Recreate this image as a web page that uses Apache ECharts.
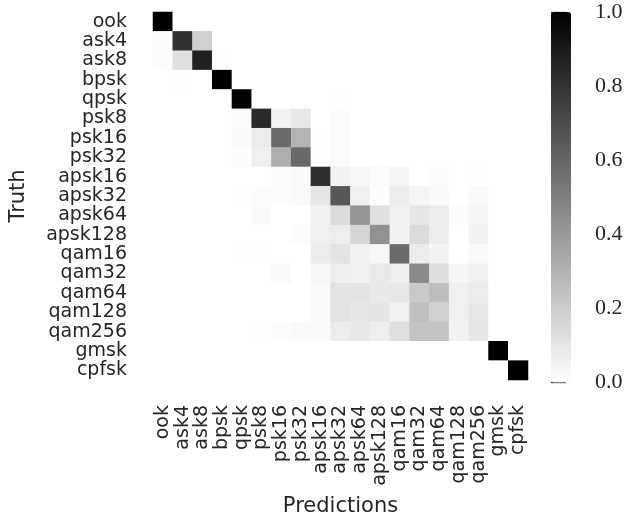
<!DOCTYPE html>
<html>
<head>
<meta charset="utf-8">
<script src="https://cdn.jsdelivr.net/npm/echarts@6/dist/echarts.min.js"></script>
<style>html,body{margin:0;padding:0;background:#fff}#c{width:629px;height:522px}</style>
</head>
<body>
<div id="c"></div>
<script>
const classes = ['ook','ask4','ask8','bpsk','qpsk','psk8','psk16','psk32','apsk16','apsk32','apsk64','apsk128','qam16','qam32','qam64','qam128','qam256','gmsk','cpfsk'];
const colorbarTicks = [0.0, 0.2, 0.4, 0.6, 0.8, 1.0];

// Rows = truth, columns = predictions (same order as classes)
const r_ook     = [1.00,0,0,0,0,0,0,0,0,0,0,0,0,0,0,0,0,0,0];
const r_ask4    = [0.01,0.80,0.19,0,0,0,0,0,0,0,0,0,0,0,0,0,0,0,0];
const r_ask8    = [0.01,0.12,0.87,0.005,0,0,0,0,0,0,0,0,0,0,0,0,0,0,0];
const r_bpsk    = [0,0.005,0,0.995,0,0,0,0,0,0,0,0,0,0,0,0,0,0,0];
const r_qpsk    = [0,0,0,0,0.99,0,0,0,0,0.005,0,0,0,0,0,0,0,0,0];
const r_psk8    = [0,0,0,0,0.015,0.835,0.05,0.09,0,0.01,0,0,0,0,0,0,0,0,0];
const r_psk16   = [0,0,0,0,0.02,0.08,0.58,0.30,0.005,0.015,0,0,0,0,0,0,0,0,0];
const r_psk32   = [0,0,0,0,0.01,0.06,0.32,0.59,0.005,0.015,0,0,0,0,0,0,0,0,0];
const r_apsk16  = [0,0,0,0,0,0,0.01,0.02,0.81,0.05,0.03,0.015,0.04,0,0.01,0,0.005,0,0];
const r_apsk32  = [0,0,0,0,0.005,0.01,0.01,0.02,0.10,0.66,0.06,0.01,0.075,0.04,0.02,0,0.02,0,0];
const r_apsk64  = [0,0,0,0,0,0.02,0,0,0.055,0.14,0.42,0.12,0.06,0.10,0.08,0.01,0.035,0,0];
const r_apsk128 = [0,0,0,0,0,0,0,0.01,0.06,0.07,0.16,0.43,0.05,0.14,0.075,0,0.05,0,0];
const r_qam16   = [0,0,0,0,0.005,0.005,0,0,0.075,0.11,0.055,0.03,0.58,0.08,0.05,0,0.02,0,0];
const r_qam32   = [0,0,0,0,0,0,0.02,0,0.03,0.065,0.06,0.085,0.07,0.46,0.13,0.035,0.06,0,0];
const r_qam64   = [0,0,0,0,0,0,0,0,0.02,0.11,0.11,0.09,0.095,0.21,0.26,0.06,0.08,0,0];
const r_qam128  = [0,0,0,0,0,0,0,0,0.02,0.11,0.10,0.105,0.06,0.25,0.19,0.06,0.09,0,0];
const r_qam256  = [0,0,0,0,0,0.005,0.01,0.02,0.02,0.075,0.09,0.07,0.125,0.23,0.23,0.05,0.10,0,0];
const r_gmsk    = [0,0,0,0,0,0,0,0,0,0,0,0,0,0,0,0,0,1.00,0];
const r_cpfsk   = [0,0,0,0,0,0,0,0,0,0,0,0,0,0,0,0,0,0,1.00];

const rows = [r_ook,r_ask4,r_ask8,r_bpsk,r_qpsk,r_psk8,r_psk16,r_psk32,r_apsk16,r_apsk32,r_apsk64,r_apsk128,r_qam16,r_qam32,r_qam64,r_qam128,r_qam256,r_gmsk,r_cpfsk];
const heatData = [];
rows.forEach((row, i) => row.forEach((v, j) => heatData.push([j, i, v])));

const txt = '#262626';
const sans = 'DejaVu Sans';
const chart = echarts.init(document.getElementById('c'), null, {renderer: 'canvas'});
chart.setOption({
  animation: false,
  backgroundColor: '#ffffff',
  grid: [
    {left: 152, top: 12, width: 376, height: 370.5},
    {left: 551, top: 12, width: 20, height: 370.5}
  ],
  xAxis: [
    {type: 'category', data: classes, gridIndex: 0, position: 'bottom',
     axisLine: {show: false}, axisTick: {show: false}, splitLine: {show: false},
     axisLabel: {rotate: 90, interval: 0, margin: 25, color: txt, fontFamily: sans, fontSize: 19},
     name: 'Predictions', nameLocation: 'middle', nameGap: 116,
     nameTextStyle: {color: txt, fontFamily: sans, fontSize: 21}},
    {type: 'value', gridIndex: 1, show: false, min: 0, max: 1}
  ],
  yAxis: [
    {type: 'category', data: classes, gridIndex: 0, inverse: true,
     axisLine: {show: false}, axisTick: {show: false}, splitLine: {show: false},
     axisLabel: {interval: 0, margin: 26, color: txt, fontFamily: sans, fontSize: 19},
     name: 'Truth', nameLocation: 'middle', nameGap: 124, nameRotate: 90,
     nameTextStyle: {color: txt, fontFamily: sans, fontSize: 21}},
    {type: 'value', gridIndex: 1, position: 'right', min: 0, max: 1, interval: 0.2,
     axisLine: {show: false}, splitLine: {show: false},
     axisTick: {show: true, length: 15, lineStyle: {color: txt, width: 1.3}},
     axisLabel: {margin: 24, color: txt, fontFamily: 'Liberation Serif', fontSize: 22,
                 formatter: v => colorbarTicks.indexOf(Math.round(v*10)/10) >= 0 ? v.toFixed(1) : ''}}
  ],
  visualMap: {
    type: 'continuous', seriesIndex: 0, min: 0, max: 1, calculable: false, hoverLink: false,
    left: 551, top: 12, padding: 0, itemWidth: 20, itemHeight: 370.5, text: null, showLabel: false,
    inRange: {color: ['#ffffff', '#000000']}
  },
  series: [{
    type: 'heatmap', xAxisIndex: 0, yAxisIndex: 0, data: heatData,
    itemStyle: {borderWidth: 0}, emphasis: {disabled: true}
  }]
});
</script>
</body>
</html>
